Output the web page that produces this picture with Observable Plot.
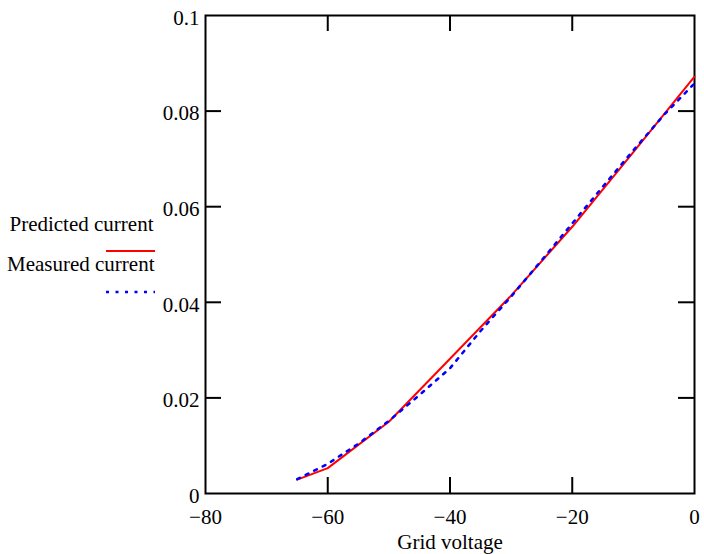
<!DOCTYPE html>
<html>
<head>
<meta charset="utf-8">
<script src="https://cdn.jsdelivr.net/npm/d3@7"></script>
<script src="https://cdn.jsdelivr.net/npm/@observablehq/plot@0.6"></script>
<style>
  html, body { margin: 0; padding: 0; background: #fff; }
  #chart { width: 704px; height: 554px; }
</style>
</head>
<body>
<div id="chart"></div>
<script>
const xTicks = [-80, -60, -40, -20, 0];
const xInnerTicks = [-60, -40, -20];
const yTicks = [0, 0.02, 0.04, 0.06, 0.08, 0.1];
const yTickLabels = ["0", "0.02", "0.04", "0.06", "0.08", "0.1"];
const yInnerTicks = [0.02, 0.04, 0.06, 0.08];

const predictedV = [-65, -60, -50, -40, -30, -20, -10, 0];
const predictedI = [0.0029, 0.0053, 0.015, 0.0282, 0.0414, 0.0558, 0.0714, 0.0872];

const measuredV = [-65, -60, -55, -50, -45, -40, -35, -30, -25, -20, -15, -10, -5, 0];
const measuredI = [0.003, 0.0062, 0.0104, 0.0152, 0.0206, 0.0262, 0.034, 0.0412, 0.0488, 0.0565, 0.0642, 0.0718, 0.0792, 0.0858];

const xLabel = "Grid voltage";
const seriesNames = ["Predicted current", "Measured current"];

const predicted = predictedV.map((v, i) => ({v, i: predictedI[i]}));
const measured = measuredV.map((v, i) => ({v, i: measuredI[i]}));

const W = 704, H = 554;
const mL = 205, mR = 10, mT = 15, mB = 61;
const fw = W - mL - mR, fh = H - mT - mB;
const tickLen = 16;
const fs = 21;
const font = "Liberation Serif, Times New Roman, serif";

const plot = Plot.plot({
  width: W,
  height: H,
  marginLeft: mL,
  marginRight: mR,
  marginTop: mT,
  marginBottom: mB,
  style: {fontFamily: font, fontSize: fs + "px", background: "#fff", color: "#000"},
  x: {domain: [-80, 0]},
  y: {domain: [0, 0.1]},
  marks: [
    Plot.axisX(xTicks, {tickSize: 0, tickPadding: 16, fontSize: fs, label: null}),
    Plot.axisY(yTicks, {tickSize: 0, tickPadding: 6, fontSize: fs, dy: 2.6, label: null,
      tickFormat: d => yTickLabels[yTicks.indexOf(d)]}),
    Plot.ruleX(xInnerTicks, {x: d => d, insetTop: fh - tickLen, stroke: "#000", strokeWidth: 2}),
    Plot.ruleX(xInnerTicks, {x: d => d, insetBottom: fh - tickLen, stroke: "#000", strokeWidth: 2}),
    Plot.ruleY(yInnerTicks, {y: d => d, insetRight: fw - tickLen, stroke: "#000", strokeWidth: 2}),
    Plot.ruleY(yInnerTicks, {y: d => d, insetLeft: fw - tickLen, stroke: "#000", strokeWidth: 2}),
    Plot.frame({stroke: "#000", strokeWidth: 2}),
    Plot.line(predicted, {x: "v", y: "i", stroke: "#ff0000", strokeWidth: 2}),
    Plot.line(measured, {x: "v", y: "i", stroke: "#0000ff", strokeWidth: 2.5, strokeDasharray: "3,6.5"}),
    Plot.text([xLabel], {text: d => d, frameAnchor: "bottom", dy: 55, fontSize: fs}),
    Plot.text([seriesNames[0]], {text: d => d, frameAnchor: "top-left", dx: -52, dy: 200.6, textAnchor: "end", fontSize: fs}),
    Plot.text([seriesNames[1]], {text: d => d, frameAnchor: "top-left", dx: -51, dy: 240.1, textAnchor: "end", fontSize: fs})
  ]
});

// legend samples
const svg = d3.select(plot);
svg.append("line").attr("x1", 106).attr("x2", 155).attr("y1", 251).attr("y2", 251)
  .attr("stroke", "#ff0000").attr("stroke-width", 2);
svg.append("line").attr("x1", 106).attr("x2", 155).attr("y1", 292).attr("y2", 292)
  .attr("stroke", "#0000ff").attr("stroke-width", 2.5).attr("stroke-dasharray", "3,6.5");

document.getElementById("chart").appendChild(plot);
</script>
</body>
</html>
